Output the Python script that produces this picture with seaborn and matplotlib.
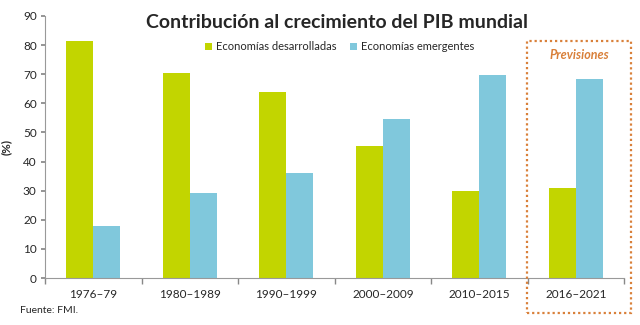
import matplotlib
matplotlib.use("Agg")
import matplotlib.pyplot as plt
import seaborn as sns
import pandas as pd
from matplotlib.patches import Rectangle

categories = ["1976–79", "1980–1989", "1990–1999", "2000–2009", "2010–2015", "2016–2021"]
desarrolladas = [81.5, 70.5, 63.8, 45.5, 30.0, 31.0]
emergentes = [18.0, 29.3, 36.0, 54.5, 69.7, 68.5]
series_names = ["Economías desarrolladas", "Economías emergentes"]
yticks = [0, 10, 20, 30, 40, 50, 60, 70, 80, 90]

df = pd.DataFrame({
    "periodo": categories * 2,
    "valor": desarrolladas + emergentes,
    "serie": [series_names[0]] * len(categories) + [series_names[1]] * len(categories),
})

sns.set_theme(style="white")
plt.rcParams["font.family"] = ["Lato", "DejaVu Sans"]

fig = plt.figure(figsize=(6.4, 3.25), dpi=100)
ax = fig.add_axes([0.0703, 0.1446, 0.905, 0.8062])

palette = {series_names[0]: "#c2d500", series_names[1]: "#80c8dc"}
sns.barplot(data=df, x="periodo", y="valor", hue="serie", order=categories,
            hue_order=series_names, palette=palette, width=0.56, saturation=1,
            linewidth=0, ax=ax, legend=True)

ax.set_ylim(0, 90)
ax.set_xlim(-0.5, 5.5)
ax.set_yticks(yticks)
ax.tick_params(axis="y", labelsize=8.5, length=3, color="#888888", left=True, pad=3)
ax.tick_params(axis="x", which="major", labelsize=8.5, length=0, pad=8)
ax.set_xticks([i - 0.5 for i in range(len(categories) + 1)], minor=True)
ax.tick_params(axis="x", which="minor", length=4, color="#888888", bottom=True)
for s in ["top", "right"]:
    ax.spines[s].set_visible(False)
for s in ["left", "bottom"]:
    ax.spines[s].set_color("#999999")
    ax.spines[s].set_linewidth(0.8)
ax.set_xlabel("")
ax.set_ylabel("(%)", fontsize=8.5, fontweight="bold", labelpad=8)

leg = ax.legend(loc="center", bbox_to_anchor=(340 / 640, 1 - 47 / 325),
                bbox_transform=fig.transFigure, ncol=2, frameon=False,
                fontsize=8, handlelength=0.6, handleheight=0.6, columnspacing=1.2,
                handletextpad=0.4)

fig.text(0.527, 1 - 22 / 325, "Contribución al crecimiento del PIB mundial", ha="center",
         va="center", fontsize=14, fontweight="bold")
fig.text(0.031, 0.045, "Fuente: FMI.", ha="left", va="center", fontsize=7.5)

# Forecast box
box = Rectangle((527 / 640, 1 - 313 / 325), (631 - 527) / 640, (313 - 41) / 325,
                transform=fig.transFigure, fill=False, edgecolor="#d9803a",
                linestyle=(0, (1, 1.3)), linewidth=1.6, clip_on=False)
fig.patches.append(box)
fig.text(579 / 640, 1 - 55 / 325, "Previsiones", ha="center", va="center",
         fontsize=9, fontstyle="italic", fontweight="bold", color="#d9803a")

fig.savefig("out.png", dpi=100)
